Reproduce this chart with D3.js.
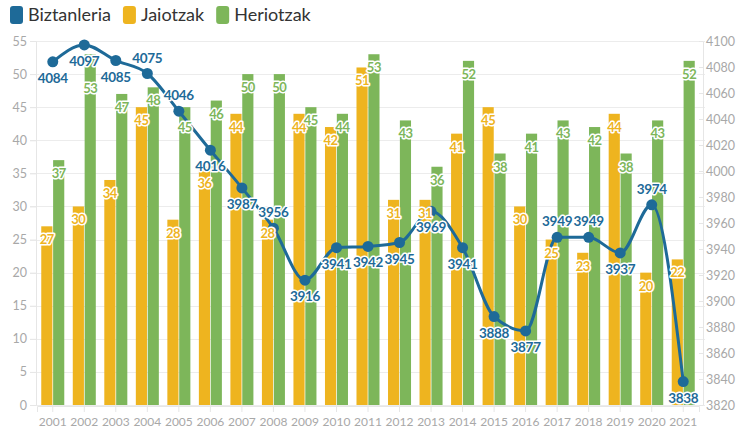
<!DOCTYPE html>
<html>
<head>
<meta charset="utf-8">
<style>
  body, html { margin: 0; padding: 0; background: #fff; overflow: hidden; }
  svg { display: block; }
  svg text { font-family: "Source Sans Pro", Lato, "Open Sans", sans-serif; }
</style>
</head>
<body>
<svg id="svg" width="751" height="432"></svg>
<script src="https://d3js.org/d3.v7.min.js"></script>
<script>
// Data
const years = ['2001','2002','2003','2004','2005','2006','2007','2008','2009','2010','2011',
  '2012','2013','2014','2015','2016','2017','2018','2019','2020','2021']
const jaiotzak = [27,30,34,45,28,36,44,28,44,42,51,31,31,41,45,30,25,23,44,20,22]
const heriotzak = [37,53,47,48,45,46,50,50,45,44,53,43,36,52,38,41,43,42,38,43,52]
const biztanleria = [4084,4097,4085,4075,4046,4016,3987,3956,3916,3941,3942,3945,3969,3941,3888,3877,3949,3949,3937,3974,3838]
const leftTicks = [0,5,10,15,20,25,30,35,40,45,50,55]
const rightTicks = [3820,3840,3860,3880,3900,3920,3940,3960,3980,4000,4020,4040,4060,4080,4100]
const seriesNames = ['Biztanleria', 'Jaiotzak', 'Heriotzak']

// population label above ('a') or below ('b') its point
const popLabelSide = ['b','b','b','a','a','b','b','a','b','b','b','b','b','b','b','b','a','a','b','a','b']
// a few bar labels are pushed down to clear the population labels
const jaiotzakLabelPush = [0,0,0,0,0,3,0,0,0,0,0,0,0,0,0,0,0,0,0,0,0]
const heriotzakLabelPush = [0,21,0,0,7,0,0,0,0,0,0,0,0,0,0,0,0,0,0,0,0]

const colors = { Biztanleria: '#1e6a98', Jaiotzak: '#eeb41f', Heriotzak: '#7db65a' }

const plotLeft = 37, plotRight = 699, plotTop = 41, plotBottom = 405

const svg = d3.select('#svg')

const x = d3.scaleBand().domain(years).range([plotLeft, plotRight]).padding(0)
const groupW = x.bandwidth() * 0.73
const x1 = d3.scaleBand().domain(['Jaiotzak', 'Heriotzak']).range([0, groupW]).paddingInner(0.06)
const y = d3.scaleLinear().domain([0, 55]).range([plotBottom, plotTop])
const y2 = d3.scaleLinear().domain([3820, 4100]).range([plotBottom, plotTop])

// gridlines
svg.append('g')
  .selectAll('line')
  .data(leftTicks)
  .join('line')
  .attr('x1', 30).attr('x2', 705)
  .attr('y1', d => Math.round(y(d)) + 0.5).attr('y2', d => Math.round(y(d)) + 0.5)
  .attr('stroke', '#ececec')

// left axis
const leftAxis = svg.append('g')
  .attr('transform', `translate(${plotLeft - 1},0)`)
  .call(d3.axisLeft(y).tickValues(leftTicks).tickSize(6).tickPadding(3))
leftAxis.select('.domain').attr('stroke', '#e6e6e6')
leftAxis.selectAll('.tick line').attr('stroke', '#e6e6e6')
leftAxis.selectAll('text').attr('fill', '#a8a8a8').style('font-size', '12.5px')

// right axis
const rightAxis = svg.append('g')
  .attr('transform', `translate(${plotRight + 4},0)`)
  .call(d3.axisRight(y2).tickValues(rightTicks).tickFormat(d3.format('d')).tickSize(0).tickPadding(3))
rightAxis.select('.domain').attr('stroke', '#e6e6e6')
rightAxis.selectAll('.tick line').remove()
rightAxis.selectAll('.tick').append('line')
  .attr('x1', -4).attr('x2', 0).attr('stroke', '#e6e6e6')
rightAxis.selectAll('text').attr('fill', '#a8a8a8').style('font-size', '12.5px')

// bottom axis
const bottomAxis = svg.append('g')
  .attr('transform', `translate(0,${plotBottom + 1})`)
  .call(d3.axisBottom(x).tickSize(6).tickPadding(5))
bottomAxis.select('.domain').attr('stroke', '#e6e6e6')
bottomAxis.selectAll('.tick line').attr('stroke', '#e6e6e6')
bottomAxis.selectAll('text').attr('fill', '#a8a8a8').style('font-size', '12px')

// bars
const barData = years.map((yr, i) => ({ year: yr, i: i, Jaiotzak: jaiotzak[i], Heriotzak: heriotzak[i] }))
const groups = svg.append('g')
  .selectAll('g')
  .data(barData)
  .join('g')
  .attr('transform', d => `translate(${x(d.year) + (x.bandwidth() - groupW) / 2},0)`)

groups.selectAll('rect')
  .data(d => ['Jaiotzak', 'Heriotzak'].map(k => ({ key: k, value: d[k] })))
  .join('rect')
  .attr('x', d => x1(d.key))
  .attr('width', x1.bandwidth())
  .attr('y', d => y(d.value))
  .attr('height', d => plotBottom - y(d.value))
  .attr('fill', d => colors[d.key])

// population line
const lineGen = d3.line()
  .x((d, i) => x(years[i]) + x.bandwidth() / 2)
  .y(d => y2(d))
  .curve(d3.curveMonotoneX)

svg.append('path')
  .attr('d', lineGen(biztanleria))
  .attr('fill', 'none')
  .attr('stroke', colors.Biztanleria)
  .attr('stroke-width', 3)

svg.append('g')
  .selectAll('circle')
  .data(biztanleria)
  .join('circle')
  .attr('cx', (d, i) => x(years[i]) + x.bandwidth() / 2)
  .attr('cy', d => y2(d))
  .attr('r', 5.5)
  .attr('fill', colors.Biztanleria)

// bar labels (drawn over the line)
const labelLayer = svg.append('g')
  .selectAll('g')
  .data(barData)
  .join('g')
  .attr('transform', d => `translate(${x(d.year) + (x.bandwidth() - groupW) / 2},0)`)

labelLayer.selectAll('text')
  .data(d => ['Jaiotzak', 'Heriotzak'].map(k => ({
    key: k, value: d[k],
    push: k === 'Heriotzak' ? heriotzakLabelPush[d.i] : jaiotzakLabelPush[d.i]
  })))
  .join('text')
  .attr('x', d => x1(d.key) + x1.bandwidth() / 2)
  .attr('y', d => y(d.value) + 18 + d.push)
  .attr('text-anchor', 'middle')
  .attr('fill', d => colors[d.key])
  .attr('stroke', '#fff')
  .attr('stroke-width', 3)
  .attr('stroke-linejoin', 'round')
  .attr('paint-order', 'stroke')
  .style('font-size', '13px')
  .style('font-weight', 'bold')
  .style('letter-spacing', '-0.5px')
  .text(d => d.value)

// population labels
svg.append('g')
  .selectAll('text')
  .data(biztanleria)
  .join('text')
  .attr('x', (d, i) => x(years[i]) + x.bandwidth() / 2)
  .attr('y', (d, i) => y2(d) + (popLabelSide[i] === 'a' ? -11 : 21))
  .attr('text-anchor', 'middle')
  .attr('fill', colors.Biztanleria)
  .attr('stroke', '#fff')
  .attr('stroke-width', 3)
  .attr('stroke-linejoin', 'round')
  .attr('paint-order', 'stroke')
  .style('font-size', '13.5px')
  .style('font-weight', 'bold')
  .style('letter-spacing', '-0.3px')
  .text(d => d)

// legend
const legend = svg.append('g').attr('transform', 'translate(10,6)')
let lx = 0
seriesNames.forEach(name => {
  const item = legend.append('g').attr('transform', `translate(${lx},0)`)
  item.append('rect')
    .attr('width', 13).attr('height', 18).attr('rx', 3)
    .attr('fill', colors[name])
  const t = item.append('text')
    .attr('x', 18).attr('y', 15)
    .attr('fill', '#333')
    .style('font-size', '18px')
    .text(name)
  lx += 18 + t.node().getComputedTextLength() + 12
})
</script>
</body>
</html>
